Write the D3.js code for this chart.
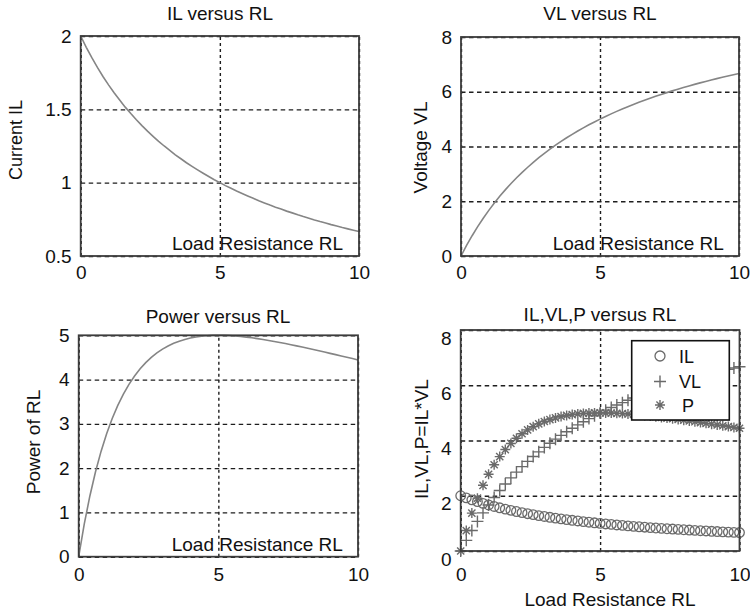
<!DOCTYPE html>
<html>
<head>
<meta charset="utf-8">
<script src="https://cdn.jsdelivr.net/npm/d3@7"></script>
<style>
  body { margin: 0; background: #fff; }
  svg text { font-family: "Liberation Sans", Arial, Helvetica, sans-serif; fill: #111; }
</style>
</head>
<body>
<svg id="fig" width="750" height="611"></svg>
<script>
// Load resistance sweep (ohms)
const rl = [0,0.2,0.4,0.6,0.8,1,1.2,1.4,1.6,1.8,2,2.2,2.4,2.6,2.8,3,3.2,3.4,3.6,3.8,4,4.2,4.4,4.6,4.8,5,
            5.2,5.4,5.6,5.8,6,6.2,6.4,6.6,6.8,7,7.2,7.4,7.6,7.8,8,8.2,8.4,8.6,8.8,9,9.2,9.4,9.6,9.8,10];
// Load current IL
const il = [2.000,1.923,1.852,1.786,1.724,1.667,1.613,1.563,1.515,1.471,1.429,1.389,1.351,1.316,1.282,1.250,
            1.220,1.190,1.163,1.136,1.111,1.087,1.064,1.042,1.020,1.000,0.980,0.962,0.943,0.926,0.909,0.893,
            0.877,0.862,0.847,0.833,0.820,0.806,0.794,0.781,0.769,0.758,0.746,0.735,0.725,0.714,0.704,0.694,
            0.685,0.676,0.667];
// Load voltage VL
const vl = [0.000,0.385,0.741,1.071,1.379,1.667,1.935,2.188,2.424,2.647,2.857,3.056,3.243,3.421,3.590,3.750,
            3.902,4.048,4.186,4.318,4.444,4.565,4.681,4.792,4.898,5.000,5.098,5.192,5.283,5.370,5.455,5.536,
            5.614,5.690,5.763,5.833,5.902,5.968,6.032,6.094,6.154,6.212,6.269,6.324,6.377,6.429,6.479,6.528,
            6.575,6.622,6.667];
// Power delivered to the load P = IL*VL
const pw = [0.000,0.740,1.372,1.913,2.378,2.778,3.122,3.418,3.673,3.893,4.082,4.244,4.383,4.501,4.602,4.688,
            4.759,4.819,4.868,4.907,4.938,4.962,4.980,4.991,4.998,5.000,4.998,4.993,4.984,4.973,4.959,4.943,
            4.925,4.905,4.884,4.861,4.837,4.813,4.787,4.761,4.734,4.706,4.678,4.650,4.621,4.592,4.563,4.533,
            4.504,4.474,4.444];

// Tick values
const xTicks   = [0, 5, 10];
const ilTicks  = [0.5, 1, 1.5, 2];
const vlTicks  = [0, 2, 4, 6, 8];
const pTicks   = [0, 1, 2, 3, 4, 5];
const allTicks = [0, 2, 4, 6, 8];

const legendNames = ["IL", "VL", "P"];

const svg = d3.select("#fig");
const FRAME = "#3c3c3c", CURVE = "#858585", MARK = "#6a6a6a", GRID = "#1e1e1e";
const FS = 19;

function panel(cfg) {
  const x = d3.scaleLinear().domain([0, 10]).range([cfg.left, cfg.right]);
  const y = d3.scaleLinear().domain(cfg.yDomain).range([cfg.bottom, cfg.top]);
  const g = svg.append("g");
  const w = cfg.right - cfg.left, h = cfg.bottom - cfg.top;

  g.append("rect").attr("x", cfg.left).attr("y", cfg.top).attr("width", w).attr("height", h)
    .attr("fill", "#fff");

  // dashed grid
  const gx = g.append("g").attr("transform", `translate(0,${cfg.bottom})`)
    .call(d3.axisBottom(x).tickValues(xTicks).tickSize(-h).tickFormat(""));
  gx.select(".domain").remove();
  gx.selectAll("line").attr("stroke", GRID).attr("stroke-width", 1.4).attr("stroke-dasharray", "3,3");
  const gy = g.append("g").attr("transform", `translate(${cfg.left},0)`)
    .call(d3.axisLeft(y).tickValues(cfg.yTicks).tickSize(-w).tickFormat(""));
  gy.select(".domain").remove();
  gy.selectAll("line").attr("stroke", GRID).attr("stroke-width", 1.4).attr("stroke-dasharray", "4.5,3.5");

  cfg.draw(g, x, y);

  // axes box
  g.append("rect").attr("x", cfg.left).attr("y", cfg.top).attr("width", w).attr("height", h)
    .attr("fill", "none").attr("stroke", FRAME).attr("stroke-width", 1.8);

  // tick labels
  const ax = g.append("g").attr("transform", `translate(0,${cfg.bottom})`)
    .call(d3.axisBottom(x).tickValues(xTicks).tickSize(0).tickPadding(cfg.xPad).tickFormat(d3.format("d")));
  ax.select(".domain").remove();
  ax.selectAll("text").attr("font-size", FS).attr("font-family", null);
  const ay = g.append("g").attr("transform", `translate(${cfg.left},0)`)
    .call(d3.axisLeft(y).tickValues(cfg.yTicks).tickSize(0).tickPadding(9).tickFormat(d => String(d)));
  ay.select(".domain").remove();
  ay.selectAll("text").attr("font-size", FS).attr("font-family", null)
    .attr("transform", `translate(0,${cfg.yShift || 0})`);

  // title
  g.append("text").attr("x", cfg.titleX).attr("y", cfg.titleY).attr("text-anchor", "middle")
    .attr("font-size", FS).text(cfg.title);
  // y label
  g.append("text").attr("transform", `translate(${cfg.yLabX},${cfg.yLabY}) rotate(-90)`)
    .attr("text-anchor", "middle").attr("font-size", cfg.yLabFS || FS).text(cfg.yLabel);
  // x label
  if (cfg.xLabInside) {
    g.append("text").attr("x", x(cfg.xLabInside)).attr("y", cfg.bottom - 6)
      .attr("font-size", FS).text("Load Resistance RL");
  } else {
    g.append("text").attr("x", cfg.xLabX).attr("y", cfg.xLabY).attr("text-anchor", "middle")
      .attr("font-size", FS).text("Load Resistance RL");
  }
  return { x, y, g };
}

function curve(series) {
  return (g, x, y) => {
    const line = d3.line().x((d, i) => x(rl[i])).y(d => y(d));
    g.append("path").datum(series).attr("d", line).attr("fill", "none")
      .attr("stroke", CURVE).attr("stroke-width", 1.6);
  };
}

// marker shapes for the combined plot
const plusPath = "M-6,0H6M0,-6V6";
const starPath = "M-5,0H5M0,-5V5M-3.6,-3.6L3.6,3.6M-3.6,3.6L3.6,-3.6";

function markers(g, x, y, series, kind) {
  const sel = g.append("g").selectAll("g").data(series).join("g")
    .attr("transform", (d, i) => `translate(${x(rl[i])},${y(d)})`);
  if (kind === "o") {
    sel.append("circle").attr("r", 4.8).attr("fill", "none").attr("stroke", MARK).attr("stroke-width", 1.3);
  } else {
    sel.append("path").attr("d", kind === "+" ? plusPath : starPath)
      .attr("stroke", MARK).attr("stroke-width", 1.4).attr("fill", "none");
  }
}

panel({ left: 80.7, right: 359, top: 36, bottom: 256, yDomain: [0.5, 2], yTicks: ilTicks, xPad: 10,
  title: "IL versus RL", titleX: 220, titleY: 19.5, yLabel: "Current IL", yLabFS: 18, yLabX: 21.5, yLabY: 140,
  xLabInside: 3.28, draw: curve(il) });

panel({ left: 461, right: 739, top: 37, bottom: 256, yDomain: [0, 8], yTicks: vlTicks, xPad: 10,
  title: "VL versus RL", titleX: 600, titleY: 20, yLabel: "Voltage VL", yLabX: 426.5, yLabY: 147.5,
  xLabInside: 3.3, draw: curve(vl) });

panel({ left: 78.7, right: 358, top: 335.3, bottom: 556.7, yDomain: [0, 5], yTicks: pTicks, xPad: 11,
  title: "Power versus RL", titleX: 218, titleY: 323, yLabel: "Power of RL", yLabX: 40, yLabY: 442,
  xLabInside: 3.33, draw: curve(pw) });

panel({ left: 460.7, right: 739.5, top: 330, bottom: 551, yDomain: [0, 8], yTicks: allTicks, xPad: 17,
  yShift: 8, title: "IL,VL,P versus RL", titleX: 600, titleY: 321, yLabel: "IL,VL,P=IL*VL",
  yLabX: 428, yLabY: 439, xLabX: 610, xLabY: 606,
  draw: (g, x, y) => {
    markers(g, x, y, il, "o");
    markers(g, x, y, vl, "+");
    markers(g, x, y, pw, "*");
    // legend
    const lg = g.append("g");
    lg.append("rect").attr("x", 631.7).attr("y", 340.7).attr("width", 97.6).attr("height", 79.3)
      .attr("fill", "#fff").attr("stroke", "#111").attr("stroke-width", 1.6);
    const kinds = ["o", "+", "*"];
    const rowY = [356, 381.5, 405];
    legendNames.forEach((name, i) => {
      const m = lg.append("g").attr("transform", `translate(660,${rowY[i]})`);
      if (kinds[i] === "o") m.append("circle").attr("r", 5).attr("fill", "none").attr("stroke", MARK).attr("stroke-width", 1.3);
      else m.append("path").attr("d", kinds[i] === "+" ? plusPath : starPath).attr("stroke", MARK).attr("stroke-width", 1.4);
      lg.append("text").attr("x", name === "P" ? 682 : 679).attr("y", rowY[i] + 6.5)
        .attr("font-size", 18).text(name);
    });
  } });
</script>
</body>
</html>
